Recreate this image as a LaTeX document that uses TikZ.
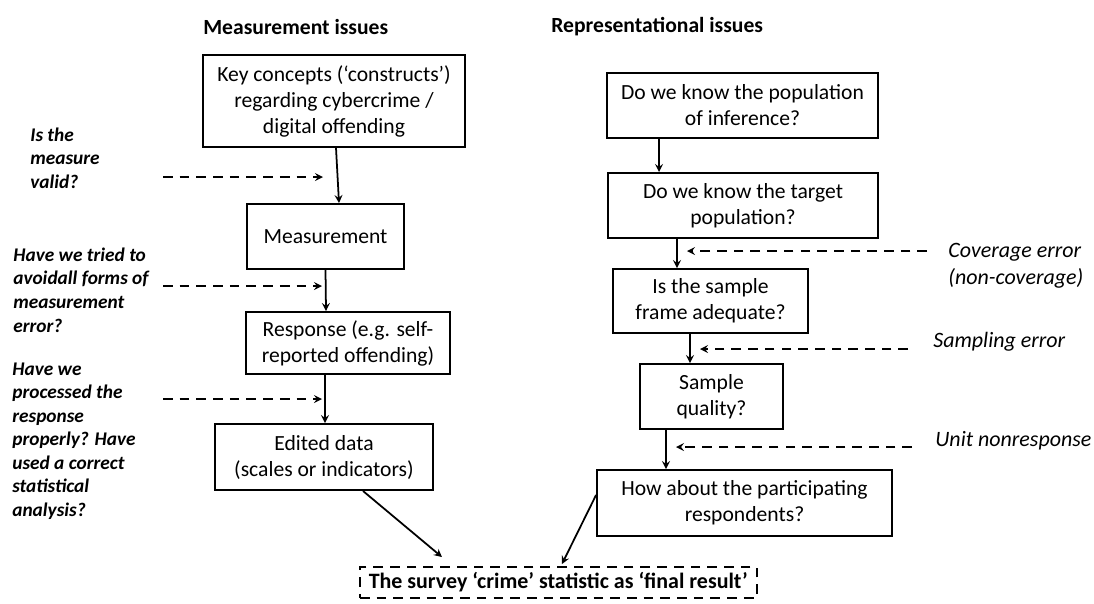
\documentclass[tikz,border=0pt]{standalone}
\usepackage{fontspec}
\setmainfont{Carlito}
\usepackage{tikz}
\usetikzlibrary{arrows}
\tikzstyle{issue} = [rectangle, draw=black, line width=1.1pt, align=center, inner sep=2pt, font=\fontsize{12.3}{14.8}\selectfont]
\tikzstyle{result} = [rectangle, draw=black, line width=1.1pt, dash pattern=on 5.5pt off 4pt, align=center, inner xsep=5pt, inner ysep=2pt, font=\fontsize{12.5}{14}\selectfont\bfseries]
\tikzstyle{heading} = [anchor=west, inner sep=0pt, font=\fontsize{12.3}{14}\selectfont\bfseries]
\tikzstyle{question} = [anchor=west, align=left, inner sep=0pt, font=\fontsize{11}{13.4}\selectfont\bfseries\itshape]
\tikzstyle{errlabel} = [anchor=west, align=left, inner sep=0pt, font=\fontsize{12.5}{15.5}\selectfont\itshape]
\tikzstyle{arrow} = [line width=1pt,->,>=stealth]
\tikzstyle{darrow} = [line width=1pt,dash pattern=on 5.5pt off 4pt,->,>=stealth]

\begin{document}
\begin{tikzpicture}[x=0.02cm, y=-0.02cm]
\useasboundingbox (0,0) rectangle (1094,603);

\node (mhead) [heading] at (203,27) {Measurement issues};
\node (rhead) [heading] at (551,27) {Representational issues};

% measurement side
\node (concepts) [issue, minimum width=5.24cm, minimum height=1.84cm] at (334,101)
	{Key concepts (‘constructs’)\\ regarding cybercrime /\\ digital offending};
\node (measure) [issue, minimum width=3.14cm, minimum height=1.30cm] at (325.5,236.5)
	{Measurement};
\node (response) [issue, minimum width=4.08cm, minimum height=1.24cm] at (348,343)
	{Response (e.g. self-\\ reported offending)};
\node (edited) [issue, minimum width=4.36cm, minimum height=1.32cm] at (324,457)
	{Edited data\\ (scales or indicators)};

% representation side
\node (inference) [issue, minimum width=5.42cm, minimum height=1.30cm] at (742.5,105.5)
	{Do we know the population\\ of inference?};
\node (target) [issue, minimum width=5.40cm, minimum height=1.30cm] at (743,205.5)
	{Do we know the target\\ population?};
\node (frame) [issue, minimum width=3.90cm, minimum height=1.28cm] at (710.5,301)
	{Is the sample\\ frame adequate?};
\node (quality) [issue, minimum width=2.86cm, minimum height=1.30cm] at (711.5,396.5)
	{Sample\\ quality?};
\node (respondents) [issue, minimum width=5.90cm, minimum height=1.32cm] at (744.5,503)
	{How about the participating\\ respondents?};

\node (final) [result, minimum height=0.62cm, anchor=west] at (359,582.5)
	{The survey ‘crime’ statistic as ‘final result’};

% questions and errors
\node (valid) [question] at (30,158) {Is the\\ measure\\ valid?};
\node (avoid) [question] at (13,290) {Have we tried to\\ avoidall forms of\\ measurement\\ error?};
\node (processed) [question] at (12,441) {Have we\\ processed the\\ response\\ properly? Have\\ used a correct\\ statistical\\ analysis?};
\node (coverage) [errlabel] at (948,266) {Coverage error\\ (non-coverage)};
\node (sampling) [errlabel] at (933,342) {Sampling error};
\node (nonresp) [errlabel] at (935,441) {Unit nonresponse};

\coordinate (validA) at (163,177);   \coordinate (validB) at (323,177);
\coordinate (avoidA) at (163,286);   \coordinate (avoidB) at (322,286);
\coordinate (procA) at (163,399);    \coordinate (procB) at (322,399);
\coordinate (covA) at (927,251);     \coordinate (covB) at (687,251);
\coordinate (sampA) at (908,349);    \coordinate (sampB) at (700,349);
\coordinate (unitA) at (912,447);    \coordinate (unitB) at (676,447);

\draw [arrow] ([xshift=0.04cm]concepts.south) -- ([xshift=0.27cm]measure.north);
\draw [arrow] (measure.south) -- ([xshift=-0.44cm]response.north);
\draw [arrow] ([xshift=-0.46cm]response.south) -- ([xshift=0.02cm]edited.north);
\draw [arrow] ([xshift=0.78cm]edited.south) -- ([xshift=1.66cm,yshift=0.18cm]final.north west);

\draw [arrow] ([xshift=-1.67cm]inference.south) -- ([xshift=-1.68cm]target.north);
\draw [arrow] ([xshift=-1.32cm]target.south) -- ([xshift=-0.67cm]frame.north);
\draw [arrow] ([xshift=-0.41cm]frame.south) -- ([xshift=-0.43cm]quality.north);
\draw [arrow] ([xshift=-0.91cm]quality.south) -- ([xshift=-1.57cm]respondents.north);
\draw [arrow] ([yshift=0.16cm]respondents.west) -- ([xshift=4.06cm,yshift=0.04cm]final.north west);

\draw [darrow] (validA) -- (validB);
\draw [darrow] (avoidA) -- (avoidB);
\draw [darrow] (procA) -- (procB);
\draw [darrow] (covA) -- (covB);
\draw [darrow] (sampA) -- (sampB);
\draw [darrow] (unitA) -- (unitB);

\end{tikzpicture}
\end{document}
